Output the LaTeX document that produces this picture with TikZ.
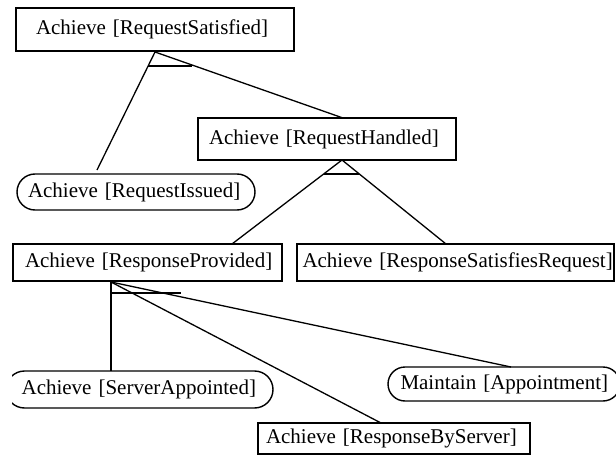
\documentclass[tikz,border=0pt]{standalone}
\usepackage{fontspec}
\setmainfont{Liberation Serif}
\begin{document}
\begin{tikzpicture}[x=1pt,y=-1pt,
  goalbox/.style={draw, line width=1.8pt, rectangle, inner ysep=0pt, align=left,
     font=\fontsize{21}{24}\selectfont},
  softbox/.style={goalbox, line width=1.4pt},
  link/.style={line width=1.3pt},
  refbar/.style={line width=1.8pt}]
\useasboundingbox (0,0) rectangle (616,460);
% goals
\node[goalbox, minimum width=278pt, minimum height=43pt, inner xsep=20pt, text width=238pt] (root) at (155,29.5) {\mbox{Achieve [RequestSatisfied]}};
\node[goalbox, minimum width=258pt, minimum height=42pt, inner xsep=11pt, text width=236pt] (rh) at (327,139) {\mbox{Achieve [RequestHandled]}};
\node[softbox, rounded corners=18pt, minimum width=238pt, minimum height=36pt, inner xsep=11pt, text width=216pt] (ri) at (136,192) {\mbox{Achieve [RequestIssued]}};
\node[goalbox, minimum width=269pt, minimum height=37pt, inner xsep=12pt, text width=245pt] (rp) at (147.5,262.5) {\mbox{Achieve [ResponseProvided]}};
\node[goalbox, minimum width=317pt, minimum height=37pt, inner xsep=5.5pt, text width=306pt] (rs) at (455.5,262.5) {\mbox{Achieve [ResponseSatisfiesRequest]}};
\begin{scope}
\clip (12,360) rectangle (300,420);
\node[softbox, rounded corners=18.5pt, minimum width=267pt, minimum height=37pt, inner xsep=15.6pt, text width=235.8pt] (sa) at (139.5,389.5) {\mbox{Achieve [ServerAppointed]}};
\end{scope}
\node[softbox, rounded corners=17pt, minimum width=232pt, minimum height=34pt, inner xsep=12.5pt, text width=207pt] (ap) at (504,384) {\mbox{Maintain [Appointment]}};
\node[goalbox, minimum width=272pt, minimum height=31pt, inner xsep=8pt, text width=256pt] (rb) at (394,438.5) {\mbox{Achieve [ResponseByServer]}};
% connection points
\coordinate (r1) at (155,52);
\coordinate (riT) at (97,170);
\coordinate (rhT) at (343,118);
\coordinate (r2) at (342,160);
\coordinate (rpT) at (232,244);
\coordinate (rsT) at (446,244);
\coordinate (r3) at (111,282);
\coordinate (saT) at (111,371);
\coordinate (rbT) at (381,423);
\coordinate (apT) at (511,367);
% refinements
\draw[link] (r1) -- (riT);
\draw[link] (r1) -- (rhT);
\draw[refbar] (148,66) -- (192,66);
\draw[link] (r2) -- (rpT);
\draw[link] (r2) -- (rsT);
\draw[refbar] (323.7,174) -- (359.3,174);
\draw[refbar] (r3) -- (saT);
\draw[link] (r3) -- (rbT);
\draw[link] (r3) -- (apT);
\draw[refbar] (111,293) -- (181,293);
\end{tikzpicture}
\end{document}
